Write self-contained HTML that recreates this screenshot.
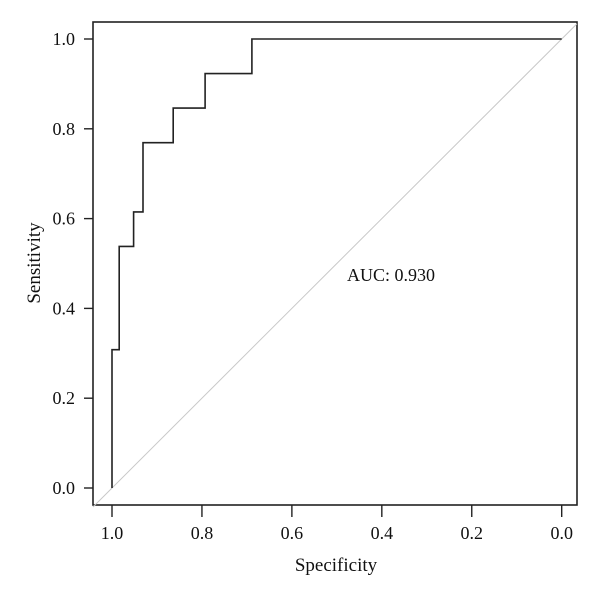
<!DOCTYPE html>
<html><head><meta charset="utf-8"><style>
html,body{margin:0;padding:0;background:#fff;}
svg{display:block;font-family:"Liberation Serif",serif;}
</style></head><body>
<svg id="chart" width="600" height="597" viewBox="0 0 600 597">
<rect x="93" y="22" width="484" height="483" fill="none" stroke="#222" stroke-width="1.6"/>
<g id="xticks"></g>
<g id="yticks"></g>
<line id="diag" stroke="#c8c8c8" stroke-width="1"/>
<path id="roc" fill="none" stroke="#222" stroke-width="1.6"/>
<text x="391" y="281" font-size="18" text-anchor="middle" fill="#111">AUC: 0.930</text>
<text x="336" y="571" font-size="19" text-anchor="middle" fill="#111">Specificity</text>
<text x="0" y="0" font-size="19" text-anchor="middle" fill="#111" transform="translate(40,263) rotate(-90)">Sensitivity</text>
</svg>
<script>
const specificity = [1.0, 1.0, 0.984, 0.984, 0.952, 0.952, 0.931, 0.931, 0.864, 0.864, 0.793, 0.793, 0.689, 0.689, 0.0];
const sensitivity = [0.0, 0.308, 0.308, 0.538, 0.538, 0.615, 0.615, 0.769, 0.769, 0.846, 0.846, 0.923, 0.923, 1.0, 1.0];
const xTickLabels = ["1.0","0.8","0.6","0.4","0.2","0.0"];
const yTickLabels = ["0.0","0.2","0.4","0.6","0.8","1.0"];
const NS="http://www.w3.org/2000/svg";
function xs(s){return 112+(1-s)*449.7;}
function ys(v){return 488-v*449;}
let d="";
for(let i=0;i<specificity.length;i++){d+=(i?"L":"M")+xs(specificity[i]).toFixed(1)+","+ys(sensitivity[i]).toFixed(1);}
document.getElementById("roc").setAttribute("d",d);
const dg=document.getElementById("diag");
const sL=1+(112-93)/449.7, sR=1-(577-112)/449.7;
dg.setAttribute("x1",93);dg.setAttribute("y1",ys(1-sL));
dg.setAttribute("x2",577);dg.setAttribute("y2",ys(1-sR));
const gx=document.getElementById("xticks");
xTickLabels.forEach(l=>{const v=parseFloat(l),x=xs(v);
const ln=document.createElementNS(NS,"line");


ln.setAttribute("x1",x);ln.setAttribute("x2",x);ln.setAttribute("y1",505);ln.setAttribute("y2",517);ln.setAttribute("stroke","#222");ln.setAttribute("stroke-width","1.4");gx.appendChild(ln);
const t=document.createElementNS(NS,"text");


t.setAttribute("x",x);t.setAttribute("y",539);t.setAttribute("font-size","18");t.setAttribute("text-anchor","middle");t.setAttribute("fill","#111");t.textContent=l;gx.appendChild(t);});
const gy=document.getElementById("yticks");
yTickLabels.forEach(l=>{const v=parseFloat(l),y=ys(v);
const ln=document.createElementNS(NS,"line");


ln.setAttribute("x1",84);ln.setAttribute("x2",93);ln.setAttribute("y1",y);ln.setAttribute("y2",y);ln.setAttribute("stroke","#222");ln.setAttribute("stroke-width","1.4");gy.appendChild(ln);
const t=document.createElementNS(NS,"text");


t.setAttribute("x",75);t.setAttribute("y",y+6);t.setAttribute("font-size","18");t.setAttribute("text-anchor","end");t.setAttribute("fill","#111");t.textContent=l;gy.appendChild(t);});
</script>
</body></html>
